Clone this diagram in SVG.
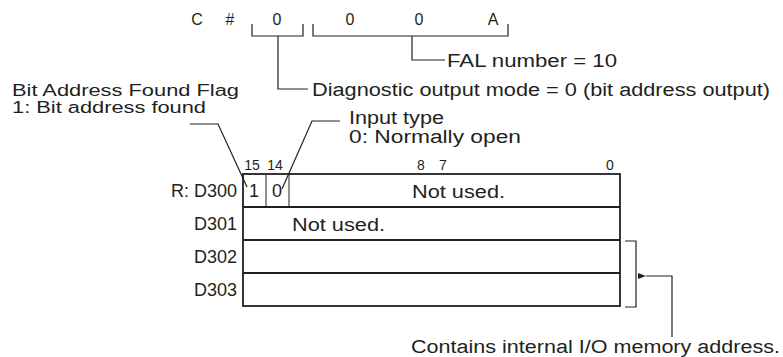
<svg xmlns="http://www.w3.org/2000/svg" width="783" height="357" viewBox="0 0 783 357">
<style>
.t{font-family:"Liberation Sans",Arial,sans-serif;font-size:18px;fill:#231f20}
.f{font-family:"Liberation Sans",Arial,sans-serif;font-size:16px;fill:#231f20}
.s{font-family:"Liberation Sans",Arial,sans-serif;font-size:14px;fill:#231f20}
.c{font-family:"Liberation Sans",Arial,sans-serif;font-size:16px;fill:#231f20}
.ln{fill:none;stroke:#231f20;stroke-width:1.2}
.tb{fill:none;stroke:#231f20;stroke-width:1.8}
.th{fill:none;stroke:#231f20;stroke-width:1}
</style>
<defs>
<marker id="ah" markerWidth="8" markerHeight="6" refX="0" refY="3" orient="auto" markerUnits="userSpaceOnUse">
<path d="M8,0 L0,3 L8,6 Z" fill="#231f20"/>
</marker>
</defs>
<rect width="783" height="357" fill="#fff"/>
<g id="code">
<text class="c" x="197" y="25" text-anchor="middle">C</text>
<text class="c" x="230" y="25" text-anchor="middle">#</text>
<text class="c" x="277" y="25" text-anchor="middle">0</text>
<text class="c" x="350" y="25" text-anchor="middle">0</text>
<text class="c" x="419" y="25" text-anchor="middle">0</text>
<text class="c" x="493" y="25" text-anchor="middle">A</text>
<path class="ln" d="M252,24 V36 H303 V24"/>
<path class="ln" d="M313,24 V36 H508 V24"/>
</g>
<g id="fal-label">
<text class="t" x="447" y="67" textLength="170" lengthAdjust="spacingAndGlyphs">FAL number = 10</text>
</g>
<g id="diag-label">
<text class="t" x="312" y="96" textLength="458" lengthAdjust="spacingAndGlyphs">Diagnostic output mode = 0 (bit address output)</text>
</g>
<g id="flag-label">
<text class="f" x="12" y="96" textLength="227" lengthAdjust="spacingAndGlyphs">Bit Address Found Flag</text>
<text class="f" x="12" y="113" textLength="194" lengthAdjust="spacingAndGlyphs">1: Bit address found</text>
</g>
<g id="input-label">
<text class="t" x="349" y="124" textLength="95" lengthAdjust="spacingAndGlyphs">Input type</text>
<text class="t" x="349" y="143" textLength="172" lengthAdjust="spacingAndGlyphs">0: Normally open</text>
</g>
<g id="table">
<text class="s" x="252" y="170" text-anchor="middle">15</text>
<text class="s" x="275" y="170" text-anchor="middle">14</text>
<text class="s" x="421" y="170" text-anchor="middle">8</text>
<text class="s" x="443" y="170" text-anchor="middle">7</text>
<text class="s" x="610" y="170" text-anchor="middle">0</text>
<rect class="tb" x="243" y="174" width="377" height="132"/>
<path class="tb" d="M243,207 H620 M243,240 H620 M243,273 H620"/>
<path class="th" d="M266,174 V207 M289,174 V207"/>
<text class="t" x="254" y="197" text-anchor="middle">1</text>
<text class="t" x="277" y="197" text-anchor="middle">0</text>
<text class="t" x="412" y="198" textLength="93" lengthAdjust="spacingAndGlyphs">Not used.</text>
<text class="t" x="292" y="231" textLength="93" lengthAdjust="spacingAndGlyphs">Not used.</text>
<text class="t" x="237" y="197" text-anchor="end">R: D300</text>
<text class="t" x="237" y="230" text-anchor="end">D301</text>
<text class="t" x="237" y="263" text-anchor="end">D302</text>
<text class="t" x="237" y="296" text-anchor="end">D303</text>
</g>
<g id="address-label">
<text class="t" x="411" y="353" textLength="369" lengthAdjust="spacingAndGlyphs">Contains internal I/O memory address.</text>
</g>
<g id="connectors">
<path class="ln" d="M412,36 V60 H445"/>
<path class="ln" d="M278,36 V89 H308"/>
<path class="ln" d="M190,124 H218 L247,187"/>
<path class="ln" d="M340,121 H312 L282,189"/>
<path class="ln" d="M625,241 H636 V307 H625"/>
<path class="ln" d="M672,337 V276 H646" marker-end="url(#ah)"/>
</g>
</svg>
